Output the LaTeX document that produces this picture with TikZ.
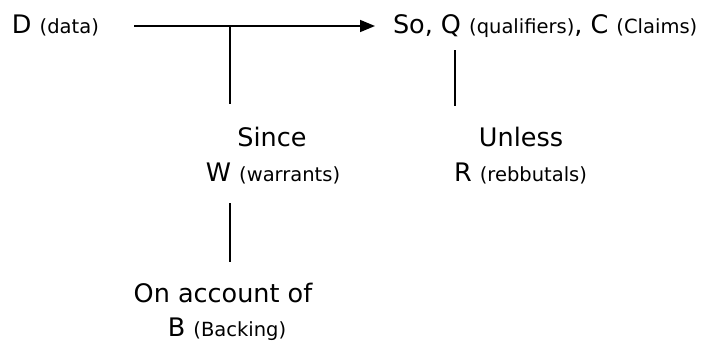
\documentclass[tikz,border=0pt]{standalone}
\usepackage{fontspec}
\setmainfont{DejaVu Sans}
\usetikzlibrary{arrows.meta}
\newcommand{\bigtxt}{\fontsize{25.5}{30}\selectfont}
\newcommand{\smtxt}{\fontsize{19.5}{23}\selectfont}
\tikzset{
  lbl/.style={inner sep=0pt, outer sep=0pt, font=\bigtxt},
  conn/.style={line width=1.6pt, black},
}
\begin{document}
\begin{tikzpicture}[x=1pt,y=-1pt]
\useasboundingbox (0,0) rectangle (701,343);
\node[lbl, anchor=base west] (D) at (12,33) {D \smtxt(data)};
\node[lbl, anchor=base west] (S) at (393,33) {So, Q \smtxt(qualifiers)\bigtxt, C \smtxt(Claims)};
\node[lbl, anchor=base] (since) at (272,146) {Since};
\node[lbl, anchor=base] (W) at (273,181) {W \smtxt(warrants)};
\node[lbl, anchor=base] (unless) at (521,146) {Unless};
\node[lbl, anchor=base] (R) at (520.5,181) {R \smtxt(rebbutals)};
\node[lbl, anchor=base] (onacc) at (223,302) {On account of};
\node[lbl, anchor=base] (B) at (227,336) {B \smtxt(Backing)};
\coordinate (a1) at (134,26);
\coordinate (a2) at (375,26);
\coordinate (j) at (230,26);
\coordinate (jw) at (230,104);
\coordinate (w1) at (230,203);
\coordinate (b1) at (230,262);
\coordinate (q1) at (455,50);
\coordinate (r1) at (455,106);
\draw[conn, -{Triangle[length=15pt,width=12pt]}] (a1) -- (a2);
\draw[conn] (j) -- (jw);
\draw[conn] (w1) -- (b1);
\draw[conn] (q1) -- (r1);
\end{tikzpicture}
\end{document}
